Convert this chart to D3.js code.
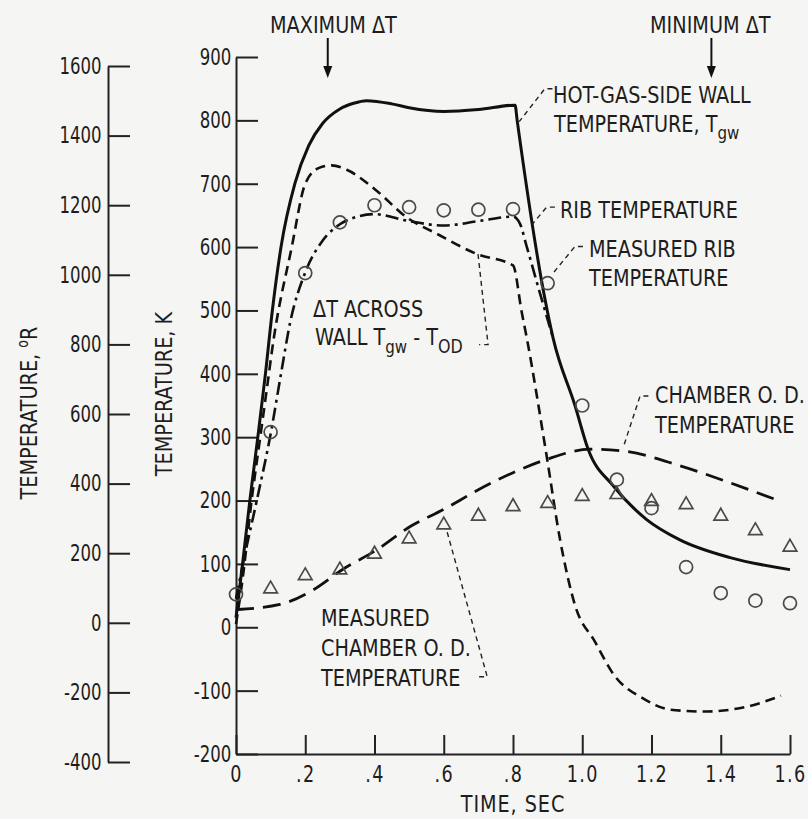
<!DOCTYPE html>
<html>
<head>
<meta charset="utf-8">
<script src="https://cdn.jsdelivr.net/npm/d3@7"></script>
<style>
  html, body { margin: 0; padding: 0; background: #f5f5f3; }
  svg { display: block; }
  text { font-family: "DejaVu Sans Condensed", "DejaVu Sans", sans-serif; fill: #1d1d1d; }
</style>
</head>
<body>
<svg id="chart"></svg>
<script>
// axis ticks
const kTicks = [-200, -100, 0, 100, 200, 300, 400, 500, 600, 700, 800, 900]
const rTicks = [-400, -200, 0, 200, 400, 600, 800, 1000, 1200, 1400, 1600]
const timeTicks = [0, 0.2, 0.4, 0.6, 0.8, 1.0, 1.2, 1.4, 1.6]
const timeTickLabels = ["0", ".2", ".4", ".6", ".8", "1.0", "1.2", "1.4", "1.6"]

// curves, [time sec, temperature K]
const hotGasWall = [[0,15],[0.02,105],[0.04,200],[0.063,300],[0.085,400],[0.105,500],[0.13,600],[0.17,700],
  [0.21,760],[0.25,795],[0.3,818],[0.34,827],[0.377,831],[0.45,826],[0.5,820],[0.6,814],[0.7,817],[0.806,824],[0.812,800],
  [0.893,516],[0.916,456],[0.979,350],[1.017,281],[1.09,223],[1.186,170],[1.282,138],[1.427,110],[1.6,91]]
const ribTemp = [[0,45],[0.02,100],[0.06,200],[0.1,305],[0.13,400],[0.156,480],[0.2,560],[0.25,610],[0.3,636],
  [0.35,648],[0.4,652],[0.5,641],[0.6,634],[0.7,641],[0.8,648],[0.82,637],[0.84,600],[0.878,527],[0.916,456]]
const deltaTWall = [[0,5],[0.02,80],[0.045,200],[0.07,300],[0.09,380],[0.108,452],[0.161,600],[0.2,700],[0.24,725],
  [0.276,729],[0.32,722],[0.406,689],[0.493,647],[0.58,621],[0.696,589],[0.8,571],[0.825,498],[0.84,456],
  [0.897,271],[0.936,138],[0.979,35],[1.037,-23],[1.09,-74],[1.178,-113],[1.254,-130],[1.35,-133],[1.47,-126],[1.574,-108]]
const chamberOD = [[0,28],[0.127,36],[0.223,59],[0.31,92],[0.406,122],[0.503,159],[0.6,186],[0.7,217],[0.8,244],
  [0.897,265],[1.022,281],[1.12,278],[1.282,255],[1.427,228],[1.571,199]]

// measured points
const measuredTime = [0, 0.1, 0.2, 0.3, 0.4, 0.5, 0.6, 0.7, 0.8, 0.9, 1.0, 1.1, 1.2, 1.3, 1.4, 1.5, 1.6]
const measuredRib = [52, 308, 559, 639, 666, 663, 658, 659, 660, 543, 350, 233, 188, 95, 54, 42, 38]
const measuredOD = [null, 62, 83, 92, 117, 141, 163, 177, 192, 197, 208, 211, 200, 195, 177, 154, 128]

// max / min delta T arrows (time)
const arrowTimes = [0.265, 1.373]

// leader lines, [time, K]
const leaders = [
  [[0.914,850],[0.892,850],[0.818,798]],
  [[0.921,663],[0.897,663],[0.854,635]],
  [[1.002,601],[0.979,601],[0.916,559]],
  [[1.191,365],[1.167,365],[1.119,285]],
  [[0.699,589],[0.728,446],[0.702,446]],
  [[0.61,150],[0.7255,-78],[0.70,-78]]
]

const W = 808, H = 819
const FS = 23
const LBL_SCALE = 0.93   // lettering is a bit narrower than DejaVu
const NUM_SCALE = 0.8    // digits much narrower
const svg = d3.select('#chart').attr('width', W).attr('height', H)

const x = d3.scaleLinear().domain([0, 1.6]).range([236, 790])
const yK = d3.scaleLinear().domain([-200, 900]).range([754, 57])
const yR = d3.scaleLinear().domain([-400, 1600]).range([762, 66])

function styleAxis(g, sx){
  g.attr('font-size', FS).attr('font-family', null).style('color', '#222')
  g.selectAll('line, path').attr('stroke-width', 2)
  g.selectAll('text').attr('transform', 'scale(' + sx + ',1)')
}

// Rankine axis
svg.append('g')
  .attr('transform', 'translate(108,0)')
  .call(d3.axisLeft(yR).tickValues(rTicks).tickSizeInner(-22).tickSizeOuter(0).tickPadding(8).tickFormat(d => String(d)))
  .call(styleAxis, NUM_SCALE)

// Kelvin axis
svg.append('g')
  .attr('transform', 'translate(' + x(0) + ',0)')
  .call(d3.axisLeft(yK).tickValues(kTicks).tickSizeInner(-22).tickSizeOuter(0).tickPadding(6).tickFormat(d => String(d)))
  .call(styleAxis, NUM_SCALE)

// time axis
svg.append('g')
  .attr('transform', 'translate(0,' + yK(-200) + ')')
  .call(d3.axisBottom(x).tickValues(timeTicks).tickSizeInner(-19).tickSizeOuter(0).tickPadding(12)
    .tickFormat((d, i) => timeTickLabels[i]))
  .call(styleAxis, 0.85)
  .selectAll('text').attr('letter-spacing', 1.5)

// labels
function label(px, py, str, extra){
  return svg.append('text')
    .attr('transform', 'translate(' + px + ',' + py + ')' + (extra || '') + ' scale(' + LBL_SCALE + ',1)')
    .attr('font-size', FS).text(str)
}

label((x(0) + x(1.6)) / 2, 812, 'TIME, SEC').attr('text-anchor', 'middle').attr('letter-spacing', 1)
label(172, 394, 'TEMPERATURE, K', ' rotate(-90)').attr('text-anchor', 'middle')
const rt = label(37, 413, 'TEMPERATURE, ', ' rotate(-90)').attr('text-anchor', 'middle')
rt.append('tspan').attr('dy', -9).attr('font-size', 15).text('o')
rt.append('tspan').attr('dy', 9).text('R')

// curves
const line = d3.line().x(d => x(d[0])).y(d => yK(d[1])).curve(d3.curveMonotoneX)

const curves = svg.append('g').attr('fill', 'none').attr('stroke', '#111').attr('stroke-linecap', 'butt')
curves.append('path').datum(chamberOD).attr('d', line).attr('stroke-width', 2.8).attr('stroke-dasharray', '18,9')
curves.append('path').datum(deltaTWall).attr('d', line).attr('stroke-width', 2.6).attr('stroke-dasharray', '10,6')
curves.append('path').datum(ribTemp).attr('d', line).attr('stroke-width', 2.6).attr('stroke-dasharray', '13,5,3,5')
curves.append('path').datum(hotGasWall).attr('d', line).attr('stroke-width', 3)

// leaders
const leaderLine = d3.line().x(d => x(d[0])).y(d => yK(d[1]))
svg.append('g').attr('fill', 'none').attr('stroke', '#222').attr('stroke-width', 1.4).attr('stroke-dasharray', '5,4')
  .selectAll('path').data(leaders).join('path').attr('d', leaderLine)

// measured rib (circles)
svg.append('g').attr('fill', 'none').attr('stroke', '#4a4a4a').attr('stroke-width', 1.7)
  .selectAll('circle').data(measuredTime.map((t, i) => [t, measuredRib[i]])).join('circle')
    .attr('cx', d => x(d[0])).attr('cy', d => yK(d[1])).attr('r', 6.5)

// measured chamber OD (triangles)
svg.append('g').attr('fill', 'none').attr('stroke', '#4a4a4a').attr('stroke-width', 1.7)
  .selectAll('path').data(measuredTime.map((t, i) => [t, measuredOD[i]]).filter(d => d[1] != null)).join('path')
    .attr('d', d3.symbol(d3.symbolTriangle, 80))
    .attr('transform', d => 'translate(' + x(d[0]) + ',' + (yK(d[1]) + 1) + ')')

// arrows
const arrows = svg.append('g')
arrowTimes.forEach(t => {
  const ax = x(t)
  arrows.append('line').attr('x1', ax).attr('x2', ax).attr('y1', 38).attr('y2', 68)
    .attr('stroke', '#111').attr('stroke-width', 2)
  arrows.append('path').attr('d', 'M' + (ax - 4.5) + ',66 L' + (ax + 4.5) + ',66 L' + ax + ',78 Z').attr('fill', '#111')
})

label(270, 33, 'MAXIMUM \u0394T')
label(650, 33, 'MINIMUM \u0394T')
label(553, 103, 'HOT-GAS-SIDE WALL')
const tg = label(554, 132, 'TEMPERATURE, T')
tg.append('tspan').attr('dy', 7).attr('font-size', 18).text('gw')
label(560, 218, 'RIB TEMPERATURE')
label(589, 257, 'MEASURED RIB')
label(589, 286, 'TEMPERATURE')
label(313, 317, '\u0394T ACROSS')
const wl = label(315, 345, 'WALL T')
wl.append('tspan').attr('dy', 8).attr('font-size', 18).text('gw')
wl.append('tspan').attr('dy', -8).text(' - T')
wl.append('tspan').attr('dy', 8).attr('font-size', 19).text('OD')
label(655, 403, 'CHAMBER O. D.')
label(655, 433, 'TEMPERATURE')
label(321, 626, 'MEASURED')
label(321, 656, 'CHAMBER O. D.')
label(321, 686, 'TEMPERATURE')
</script>
</body>
</html>
